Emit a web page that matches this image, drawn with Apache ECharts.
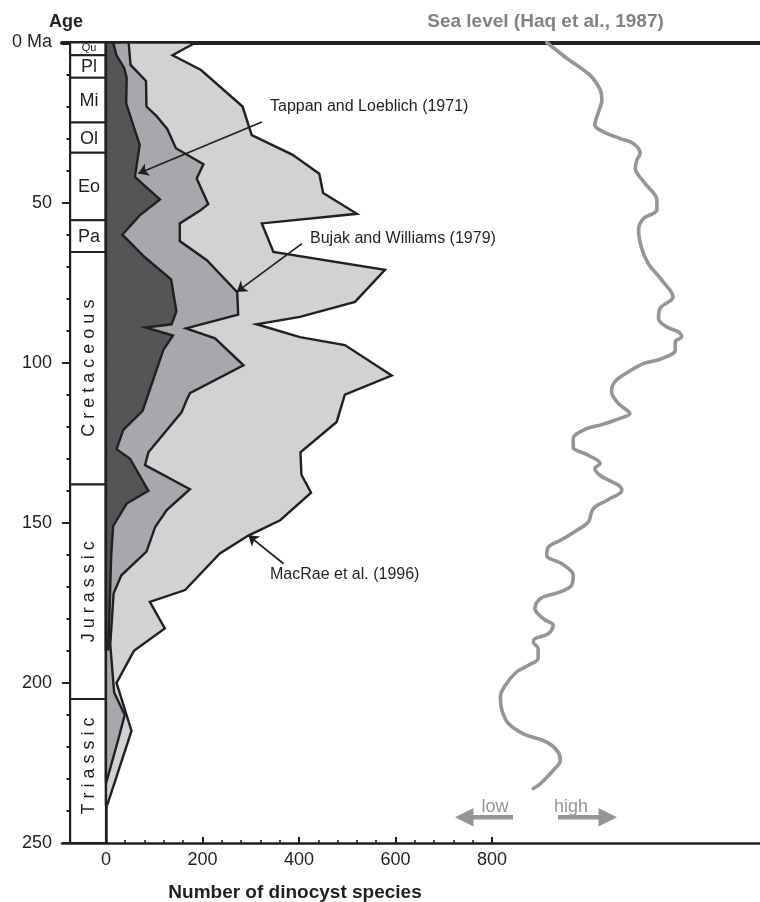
<!DOCTYPE html>
<html>
<head>
<meta charset="utf-8">
<script src="https://cdn.jsdelivr.net/npm/echarts@6/dist/echarts.min.js"></script>
<style>
  html, body { margin: 0; padding: 0; background: #fff; }
  #chart { width: 760px; height: 902px; }
</style>
</head>
<body>
<div id="chart"></div>
<script>
// Dinocyst species diversity through the Mesozoic–Cenozoic, with the Haq et al. (1987) sea-level curve.
// Each record is [number of species, age in Ma].

const ageTicks = [0, 50, 100, 150, 200, 250];
const speciesTicks = [0, 200, 400, 600, 800];
const speciesMinorTicks = [40, 80, 120, 160, 240, 280, 320, 360, 440, 480, 520, 560, 640, 680, 720, 760];

// Chronostratigraphic column
const stageNames = ['Qu', 'Pl', 'Mi', 'Ol', 'Eo', 'Pa', 'Cretaceous', 'Jurassic', 'Triassic'];
const stageBounds = [0, 4, 11, 25, 34.4, 55.5, 65.4, 138, 205, 250];

// Tappan and Loeblich (1971)
const tappanLoeblich1971 = [
  [15, 0], [22, 4], [38, 8], [43, 11], [42, 19], [57, 26], [70, 32], [60, 42], [112, 49],
  [70, 54], [34, 60], [80, 67], [135, 74], [146, 84], [136, 88], [82, 89], [139, 91.5],
  [119, 96], [76, 115], [36, 121], [22, 127], [50, 130], [88, 140], [43, 144], [15, 151],
  [11, 160], [5, 189.5]
];

// Bujak and Williams (1979)
const bujakWilliams1979 = [
  [47, 0], [51, 7], [83, 12], [84, 20], [105, 23], [127, 27], [145, 33], [202, 38], [188, 42.5],
  [212, 50.5], [195, 52.5], [153, 56.5], [153, 62], [209, 68], [272, 78], [274, 85], [166, 89.3],
  [226, 92.4], [285, 100.8], [174, 109.5], [167, 111.7], [157, 115.4], [88, 128], [81, 132],
  [174, 139.5], [126, 146], [102, 151.3], [84, 159], [32, 166.4], [16, 172], [9, 188],
  [17, 203], [39, 210], [25, 218], [1, 231]
];

// MacRae et al. (1996)
const macRae1996 = [
  [186, 0], [138, 4], [197, 8.6], [283, 20], [302, 28.9], [386, 35], [442, 41], [450, 47],
  [520, 53.5], [323, 56.5], [347, 65.4], [578, 71], [516, 81], [402, 85.7], [312, 88],
  [402, 92], [495, 94.5], [592, 104], [495, 110], [478, 118.5], [403, 128], [405, 135],
  [425, 140.6], [361, 149.2], [295, 154], [236, 159.6], [164, 171], [91, 174.7], [122, 183],
  [58, 190], [22, 200], [53, 215], [3, 238]
];

// Sea level relative to present (m), Haq et al. (1987): [metres, age in Ma]
const seaLevel = [
  [0, 0], [37, 4.9], [80, 10.2], [99, 14.8], [102, 18], [96, 21.6], [89, 25.8], [105, 27.9],
  [136, 30], [160, 31.5], [173, 34.6], [167, 36.7], [164, 39.3], [182, 44], [204, 49.2],
  [204, 52.3], [179, 55], [170, 58.6], [176, 64.3], [188, 69], [213, 74.2], [234, 79.5],
  [210, 83], [207, 86.2], [222, 88.8], [244, 90.4], [250, 91.9], [238, 93.5], [238, 96.1],
  [213, 98.7], [179, 100.3], [151, 102.9], [126, 106], [120, 109.1], [133, 112.8], [154, 115.9],
  [136, 117.4], [99, 119.5], [74, 120.6], [49, 123.7], [49, 126.3], [77, 128.9], [99, 131.5],
  [89, 133], [99, 135.2], [133, 138.3], [139, 139.8], [111, 143], [86, 145.6], [77, 149.7],
  [56, 152.3], [25, 155.5], [3, 157.6], [0, 160.2], [28, 162.8], [49, 166.4], [46, 169.5],
  [25, 171.6], [-12, 173.7], [-22, 176.8], [-6, 180], [12, 182], [3, 184.6], [-22, 186.2],
  [-25, 187.2], [-16, 189.3], [-16, 192.4], [-34, 194.5], [-56, 196.6], [-77, 200.8],
  [-86, 204.4], [-83, 208.6], [-71, 212.7], [-43, 215.9], [0, 218.5], [21, 221.6],
  [25, 224.2], [12, 227.3], [-12, 231.5], [-25, 233]
];

const INK = '#231f20';
const FONT = '"Liberation Sans", Arial, Helvetica, sans-serif';
const SEA_GREY = '#939598';

// Filled diversity envelope closed against the zero line.
function envelopeSeries(name, points, fill, z) {
  return {
    type: 'custom',
    name: name,
    xAxisIndex: 0,
    yAxisIndex: 0,
    z: z,
    clip: false,
    silent: true,
    data: points,
    encode: { x: 0, y: 1 },
    renderItem: function (params, api) {
      if (params.dataIndex !== 0) return null;
      const first = points[0];
      const last = points[points.length - 1];
      const pts = [api.coord([0, first[1]])]
        .concat(points.map(function (p) { return api.coord(p); }))
        .concat([api.coord([0, last[1]])]);
      return {
        type: 'polygon',
        shape: { points: pts },
        style: { fill: fill, stroke: INK, lineWidth: 2.4, lineJoin: 'miter' }
      };
    }
  };
}

const rotatedStages = ['Cretaceous', 'Jurassic', 'Triassic'];
const columnData = stageNames.map(function (name, i) {
  return [-74, stageBounds[i], 0, stageBounds[i + 1], name];
});

const chart = echarts.init(document.getElementById('chart'), null, { renderer: 'canvas' });

chart.setOption({
  animation: false,
  backgroundColor: '#ffffff',
  grid: { left: 62, right: 0, top: 42.5, bottom: 59 },
  xAxis: [
    {
      // species count
      type: 'value', position: 'bottom', min: -91, max: 1355,
      axisLine: { onZero: false, lineStyle: { color: INK, width: 2.5 } },
      axisTick: { customValues: speciesTicks, inside: true, length: 6, lineStyle: { color: INK, width: 2 } },
      axisLabel: { customValues: speciesTicks, fontSize: 18, color: INK, fontFamily: FONT, margin: 8 },
      splitLine: { show: false }
    },
    {
      // minor ticks of the species axis
      type: 'value', position: 'bottom', min: -91, max: 1355,
      axisLine: { show: false, onZero: false },
      axisTick: { customValues: speciesMinorTicks, inside: true, length: 3, lineStyle: { color: INK, width: 1.6 } },
      axisLabel: { show: false },
      splitLine: { show: false }
    },
    {
      // sea level (m), frame line along the top
      type: 'value', position: 'top', min: -898, max: 395,
      axisLine: { onZero: false, lineStyle: { color: INK, width: 4 } },
      axisTick: { show: false },
      axisLabel: { show: false },
      splitLine: { show: false }
    }
  ],
  yAxis: [
    {
      type: 'value', inverse: true, min: 0, max: 250, interval: 50, position: 'left', offset: -8,
      axisLine: { onZero: false, lineStyle: { color: INK, width: 2 } },
      axisTick: { length: 8, lineStyle: { color: INK, width: 2 } },
      minorTick: { show: true, splitNumber: 5, length: 3.5, lineStyle: { color: INK, width: 2 } },
      axisLabel: {
        fontSize: 18, color: INK, fontFamily: FONT, margin: 18,
        formatter: function (v) { return v === 0 ? '0 Ma' : String(v); }
      },
      splitLine: { show: false }
    },
    {
      // zero line of the species axis
      type: 'value', inverse: true, min: 0, max: 250, position: 'left',
      axisLine: { show: true, onZero: true, onZeroAxisIndex: 0, lineStyle: { color: INK, width: 2.5 } },
      axisTick: { show: false },
      axisLabel: { show: false },
      splitLine: { show: false }
    }
  ],
  series: [
    {
      type: 'custom',
      name: 'Stratigraphy',
      xAxisIndex: 0, yAxisIndex: 0, z: 1, clip: false, silent: true,
      data: columnData,
      dimensions: ['x0', 'y0', 'x1', 'y1', 'name'],
      encode: { x: [0, 2], y: [1, 3] },
      renderItem: function (params, api) {
        const p0 = api.coord([api.value(0), api.value(1)]);
        const p1 = api.coord([api.value(2), api.value(3)]);
        const name = stageNames[params.dataIndex];
        const cx = (p0[0] + p1[0]) / 2 + 1;
        let cy = (p0[1] + p1[1]) / 2;
        const rotated = rotatedStages.indexOf(name) >= 0;
        if (name === 'Triassic') cy -= 5;
        const size = name === 'Qu' ? 11 : 18;
        return {
          type: 'group',
          children: [
            {
              type: 'rect',
              shape: { x: p0[0], y: p0[1], width: p1[0] - p0[0], height: p1[1] - p0[1] },
              style: { fill: '#ffffff', stroke: INK, lineWidth: 2 }
            },
            {
              type: 'text',
              x: cx, y: rotated ? cy : cy + (name === 'Qu' ? -1 : 1),
              rotation: rotated ? Math.PI / 2 : 0,
              style: {
                text: rotated ? name.split('').join(' ') : name,
                x: 0, y: 0, align: 'center', verticalAlign: 'middle',
                fill: INK, fontSize: size, fontFamily: FONT
              }
            }
          ]
        };
      }
    },
    envelopeSeries('MacRae et al. (1996)', macRae1996, '#d1d2d4', 2),
    envelopeSeries('Bujak and Williams (1979)', bujakWilliams1979, '#a7a8ab', 3),
    envelopeSeries('Tappan and Loeblich (1971)', tappanLoeblich1971, '#545557', 4),
    {
      type: 'line',
      name: 'Sea level (Haq et al., 1987)',
      xAxisIndex: 2, yAxisIndex: 0, z: 3,
      data: seaLevel,
      smooth: 0.35,
      showSymbol: false,
      symbol: 'none',
      clip: false,
      silent: true,
      lineStyle: { color: SEA_GREY, width: 3.6, cap: 'round', join: 'round' }
    },
    {
      // pointer arrows for the three compilations
      type: 'line',
      xAxisIndex: 0, yAxisIndex: 0, z: 6,
      data: [],
      silent: true,
      markLine: {
        silent: true,
        symbol: ['none', 'arrow'],
        symbolSize: 10,
        label: { show: false },
        lineStyle: { color: INK, width: 1.7, type: 'solid' },
        data: [
          [{ coord: [323, 24.8] }, { coord: [67, 40.9] }],
          [{ coord: [406, 62.8] }, { coord: [271, 77.9] }],
          [{ coord: [368, 162.8] }, { coord: [295, 153.9] }]
        ]
      }
    }
  ],
  graphic: [
    { type: 'text', x: 49, y: 22, style: { text: 'Age', align: 'left', verticalAlign: 'middle', fill: INK, fontSize: 18, fontWeight: 'bold', fontFamily: FONT } },
    { type: 'text', x: 545.5, y: 22, style: { text: 'Sea level (Haq et al., 1987)', align: 'center', verticalAlign: 'middle', fill: '#808285', fontSize: 19, fontWeight: 'bold', fontFamily: FONT } },
    { type: 'text', x: 295, y: 893, style: { text: 'Number of dinocyst species', align: 'center', verticalAlign: 'middle', fill: INK, fontSize: 19, fontWeight: 'bold', fontFamily: FONT } },
    { type: 'text', x: 270, y: 107, style: { text: 'Tappan and Loeblich (1971)', align: 'left', verticalAlign: 'middle', fill: INK, fontSize: 16, fontFamily: FONT } },
    { type: 'text', x: 310, y: 239, style: { text: 'Bujak and Williams (1979)', align: 'left', verticalAlign: 'middle', fill: INK, fontSize: 16, fontFamily: FONT } },
    { type: 'text', x: 270, y: 574.5, style: { text: 'MacRae et al. (1996)', align: 'left', verticalAlign: 'middle', fill: INK, fontSize: 16, fontFamily: FONT } },
    { type: 'text', x: 495, y: 807, style: { text: 'low', align: 'center', verticalAlign: 'middle', fill: SEA_GREY, fontSize: 18, fontFamily: FONT } },
    { type: 'text', x: 571, y: 807, style: { text: 'high', align: 'center', verticalAlign: 'middle', fill: SEA_GREY, fontSize: 18, fontFamily: FONT } },
    { type: 'polygon', shape: { points: [[455, 817.3], [473.5, 808], [473.5, 815], [513, 815], [513, 819.6], [473.5, 819.6], [473.5, 826.6]] }, style: { fill: SEA_GREY } },
    { type: 'polygon', shape: { points: [[617, 817.3], [598.5, 808], [598.5, 815], [558, 815], [558, 819.6], [598.5, 819.6], [598.5, 826.6]] }, style: { fill: SEA_GREY } }
  ]
});
</script>
</body>
</html>
